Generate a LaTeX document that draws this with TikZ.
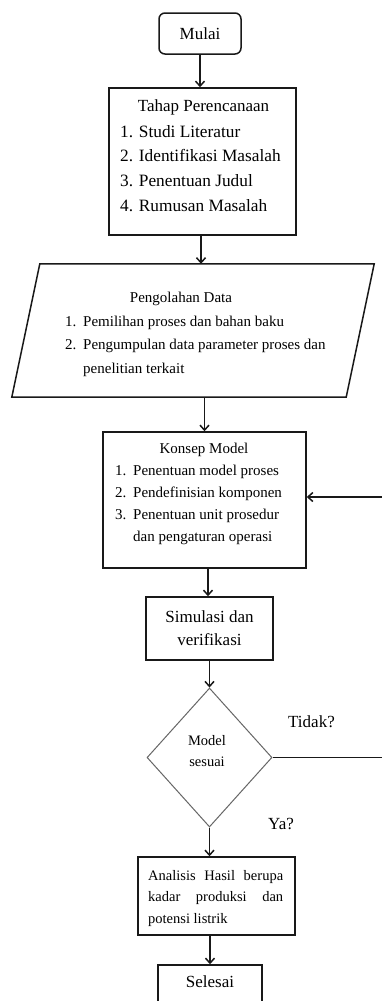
\documentclass[tikz,border=0pt]{standalone}
\usepackage{fontspec}
\setmainfont{Liberation Serif}
\usetikzlibrary{shapes.geometric,arrows.meta}
\begin{document}
\begin{tikzpicture}[x=1pt,y=-1pt,
  box/.style={draw=black!90,line width=1.5pt,inner sep=0pt},
  outline/.style={draw=black!90,line width=1.5pt},
  arr/.style={draw=black!90,line width=1.5pt,-{Straight Barb[length=5pt,width=9pt]}},
  txt/.style={inner sep=0pt,anchor=base west},
  ctxt/.style={inner sep=0pt,anchor=base},
  big/.style={font=\fontsize{17}{23}\selectfont}]
\useasboundingbox (0,0) rectangle (381,1001);
\fill[white] (0,0) rectangle (381,1001);

% Mulai
\node[box,big,rounded corners=6pt,minimum width=82pt,minimum height=41pt] (mulai) at (200,33.5) {Mulai};

% Tahap Perencanaan
\node[box,minimum width=187pt,minimum height=147pt] (tahap) at (202.5,161.5) {};
\node[ctxt,big] (tahapT) at (203.5,111) {Tahap Perencanaan};
\node[txt] (tahapL) at (120,137) {\parbox[t]{180pt}{\fontsize{17.3}{24.7}\selectfont 1. Studi Literatur\\2. Identifikasi Masalah\\3. Penentuan Judul\\4. Rumusan Masalah}};

% Pengolahan Data (parallelogram)
\node[inner sep=0pt,minimum width=334pt,minimum height=133pt] (data) at (193,330.5) {};
\draw[outline] ([xshift=14pt]data.north west) -- ([xshift=14pt]data.north east) -- ([xshift=-14pt]data.south east) -- ([xshift=-14pt]data.south west) -- cycle;
\node[ctxt,font=\fontsize{15}{20}\selectfont] (dataT) at (181,302) {Pengolahan Data};
\node[txt] (dataL) at (65,326) {\parbox[t]{300pt}{\fontsize{15}{23.5}\selectfont \makebox[18pt][l]{1.}Pemilihan proses dan bahan baku\\\makebox[18pt][l]{2.}Pengumpulan data parameter proses dan\\\hspace*{18pt}penelitian terkait}};

% Konsep Model
\node[box,minimum width=203pt,minimum height=136pt] (konsep) at (204.5,500) {};
\node[ctxt,font=\fontsize{15}{20}\selectfont] (konsepT) at (204,453) {Konsep Model};
\node[txt] (konsepL) at (115,475) {\parbox[t]{190pt}{\fontsize{15}{22.3}\selectfont \makebox[18pt][l]{1.}Penentuan model proses\\\makebox[18pt][l]{2.}Pendefinisian komponen\\\makebox[18pt][l]{3.}Penentuan unit prosedur\\\hspace*{18pt}dan pengaturan operasi}};

% Simulasi
\node[box,big,align=center,minimum width=127pt,minimum height=63pt] (sim) at (209.5,628.5) {Simulasi dan\\verifikasi};

% Decision
\node[diamond,draw=black!60,line width=1pt,inner sep=0pt,minimum width=125pt,minimum height=139pt] (dia) at (209.5,757.5) {};
\node[ctxt] (diaT) at (207,745) {\parbox[t]{60pt}{\centering\fontsize{14.5}{21}\selectfont Model\\sesuai}};
\node[txt,big] (tidak) at (288,727) {Tidak?};
\node[txt,big] (ya) at (268,829) {Ya?};

% Analisis
\node[box,minimum width=157pt,minimum height=78pt] (anal) at (216.5,896) {};
\node[txt] (analT) at (148,880) {\parbox[t]{135pt}{\fontsize{14.5}{21.5}\selectfont \makebox[135pt][s]{Analisis Hasil berupa}\\\makebox[135pt][s]{kadar produksi dan}\\potensi listrik}};

% Selesai
\node[box,minimum width=104pt,minimum height=50pt] (sel) at (210,990) {};
\node[ctxt,big] (selT) at (210,987) {Selesai};

% connectors
\draw[arr] (mulai.south) -- (mulai.south |- tahap.north);
\draw[arr] ([xshift=-1.5pt]tahap.south) -- ([xshift=-1.5pt]tahap.south |- data.north);
\draw[arr] (konsep.north |- data.south) -- (konsep.north);
\draw[arr] ([xshift=-1.5pt]sim.north |- konsep.south) -- ([xshift=-1.5pt]sim.north);
\draw[arr] (sim.south) -- (dia.north);
\draw[arr] (dia.south) -- (dia.south |- anal.north);
\draw[arr] (sel.north |- anal.south) -- (sel.north);
\coordinate (fb1) at (384,757.5);
\coordinate (fb2) at (384,497);
\draw[arr] (dia.east) -- (fb1) -- (fb2) -- (konsep.east |- fb2);
\end{tikzpicture}
\end{document}
